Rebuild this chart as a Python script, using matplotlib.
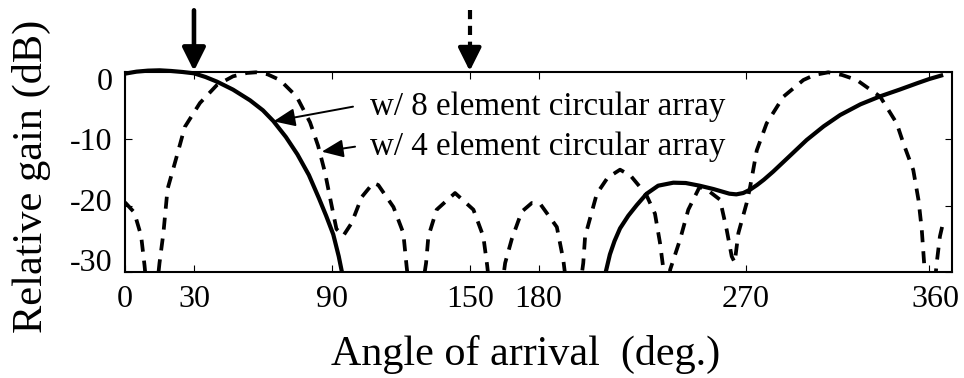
import matplotlib
matplotlib.use('Agg')
import matplotlib.pyplot as plt
from matplotlib.transforms import ScaledTranslation, Bbox, TransformedBbox

# ---------------- data ----------------
angle8 = [0, 5, 10, 15, 20, 25, 30, 35, 40, 47, 54.4, 60, 64.5, 70, 75, 80, 84.4,
          87.5, 90.6, 93, 95, 97, 100, 205, 207.5, 209, 211, 213, 215.4, 219, 222.7,
          227, 232, 238.6, 244, 250, 256, 260, 263, 266, 269, 272, 275, 278, 282,
          286, 290, 296.6, 304, 311.2, 320, 328.6, 337, 345, 350, 356]
gain8 = [-0.2, 0.1, 0.25, 0.3, 0.2, 0.05, -0.15, -0.7, -1.4, -2.6, -4.2, -5.7, -7.3,
         -9.7, -12.3, -15.4, -18.9, -21.5, -24.3, -27.6, -31, -34, -40, -40, -33,
         -30.2, -27.3, -25.3, -23.4, -21.5, -19.9, -18.2, -17.0, -16.55, -16.6,
         -17.0, -17.5, -17.9, -18.2, -18.3, -18.1, -17.6, -16.9, -16.1, -14.9,
         -13.6, -12.3, -10.15, -8.1, -6.4, -4.8, -3.6, -2.6, -1.6, -1.0, -0.4]

angle4 = [0, 4, 7, 8.5, 11.5, 15, 16.7, 18.5, 22.5, 26, 32.6, 40, 47, 53, 57, 62,
          67.4, 74.7, 80.5, 84, 87, 89.5, 92, 95, 98.6, 103, 108, 110.2, 116.8,
          121.1, 122.5, 126, 131, 132, 135.6, 143.6, 151.6, 155.9, 157.6, 161,
          165.4, 168.3, 172.6, 177, 180.6, 187.9, 190.7, 195, 199.4, 200.2, 205.3,
          210, 215.4, 220, 224.1, 227, 230.6, 232.8, 234.3, 235.7, 237.2, 241.5,
          245.1, 250, 254, 258.9, 261.8, 264, 265.3, 266.9, 270.5, 272, 274.9,
          279.2, 286.5, 295.2, 300, 306, 312, 318.4, 328.6, 335.8, 338.7, 343,
          345.3, 346.7, 347.6, 350, 353.2, 354.6, 356]
gain4 = [-19.5, -21, -24.5, -29, -40, -28.6, -24.1, -17.5, -12.6, -8.2, -4.6, -1.9,
         -0.6, -0.1, 0, -0.3, -1.15, -3.65, -7.5, -11, -15, -19.3, -23.5, -24.5,
         -22.6, -18.7, -16.6, -16.9, -20.2, -24.1, -29, -40, -28.6, -24.6, -20.6,
         -18.1, -20.6, -24.6, -29, -40, -28.6, -25, -20.9, -19.6, -19.7, -23.2,
         -28.1, -40, -28.6, -24.6, -18.2, -15.8, -14.6, -15.5, -17.2, -18.5, -21.2,
         -25.6, -29.6, -35, -29.6, -25.1, -20.6, -17.2, -17.8, -19.1, -23.6, -27.6,
         -28.5, -24.1, -19.6, -17.2, -11.7, -7.65, -3.65, -1.15, -0.4, 0, -0.4,
         -1.15, -3.65, -7.65, -10.65, -14.65, -19.2, -23.6, -28, -40, -28.6, -24.6,
         -22.5]

x_ticks = [0, 30, 90, 150, 180, 270, 350]
x_tick_labels = ['0', '30', '90', '150', '180', '270', '360']
y_ticks = [0, -10, -20, -30]
y_tick_labels = ['0', '-10', '-20', '-30']
signal_angles = [30, 150]
series_labels = ['w/ 8 element circular array', 'w/ 4 element circular array']

# ---------------- figure ----------------
plt.rcParams['font.family'] = ['Liberation Serif', 'DejaVu Serif']
fig = plt.figure(figsize=(9.64, 3.78), dpi=100)
ax = fig.add_axes([0.1297, 0.2794, 0.8582, 0.5293])

ax.set_xlim(0, 360)
ax.set_ylim(-30, 0)

clip = TransformedBbox(Bbox([[0, 0], [1, 1.03]]), ax.transAxes)
l8, = ax.plot(angle8, gain8, color='black', lw=3.0, solid_capstyle='butt',
              solid_joinstyle='round')
l4, = ax.plot(angle4, gain4, color='black', lw=2.7, dashes=(3.2, 2.4))
for ln in (l8, l4):
    ln.set_clip_box(clip)

for s in ax.spines.values():
    s.set_linewidth(1.5)

ax.set_xticks(x_ticks)
ax.set_xticklabels(x_tick_labels)
ax.set_yticks(y_ticks)
ax.set_yticklabels(y_tick_labels)
ax.tick_params(direction='in', length=5, width=0.8, top=True, right=True,
               labelsize=23, pad=9)

# label offsets as in the reference (pixels)
y_off = [-6.5, 0, 5.5, 12]
for lab, dy in zip(ax.get_yticklabels(), y_off):
    lab.set_transform(lab.get_transform() + ScaledTranslation(0, dy / 100, fig.dpi_scale_trans))
xl = ax.get_xticklabels()
xl[-1].set_transform(xl[-1].get_transform() + ScaledTranslation(6 / 100, 0, fig.dpi_scale_trans))

ax.set_xlabel('Angle of arrival  (deg.)', fontsize=30.3)
ax.xaxis.set_label_coords(0.4845, -0.315)
ax.set_ylabel('Relative gain (dB)', fontsize=30.5)
ax.yaxis.set_label_coords(-0.089, 0.48)

# series annotations
ax.text(106.6, -6.4, series_labels[0], fontsize=23.8, va='baseline')
ax.text(106.6, -12.4, series_labels[1], fontsize=23.8, va='baseline')
ax.annotate('', xy=(64.6, -7.35), xytext=(99.2, -5.15),
            arrowprops=dict(arrowstyle='-|>,head_length=0.6,head_width=0.25',
                            mutation_scale=22, lw=1.4, color='black',
                            shrinkA=0, shrinkB=0))
ax.annotate('', xy=(85.6, -11.9), xytext=(100.1, -11.15),
            arrowprops=dict(arrowstyle='-|>,head_length=0.6,head_width=0.25',
                            mutation_scale=22, lw=1.4, color='black',
                            shrinkA=0, shrinkB=0))

# arrows marking the signal directions
ax.annotate('', xy=(signal_angles[0], 0.2), xytext=(signal_angles[0], 9.3),
            annotation_clip=False,
            arrowprops=dict(arrowstyle='-|>,head_length=0.5,head_width=0.25',
                            mutation_scale=28, lw=3.3, color='black',
                            shrinkA=0, shrinkB=0))
ax.plot([signal_angles[1], signal_angles[1]], [9.3, 3.2], color='black', lw=3.0,
        dashes=(2.2, 1.6), clip_on=False)
ax.annotate('', xy=(signal_angles[1], 0.2), xytext=(signal_angles[1], 3.4),
            annotation_clip=False,
            arrowprops=dict(arrowstyle='-|>,head_length=0.5,head_width=0.25',
                            mutation_scale=28, lw=3.0, color='black',
                            shrinkA=0, shrinkB=0))

fig.savefig('out.png', dpi=100)
